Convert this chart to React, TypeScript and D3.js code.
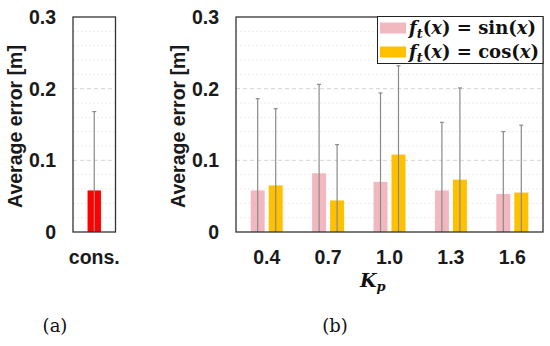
import { useEffect, useRef } from 'react';
import * as d3 from 'd3';

// panel (a): constant gain
const consLabels = ['cons.'];
const consMeans = [0.058];
const consErrTop = [0.168];

// panel (b): varying Kp
const kpLabels = ['0.4', '0.7', '1.0', '1.3', '1.6'];
const sinMeans = [0.058, 0.082, 0.07, 0.058, 0.053];
const sinErrTop = [0.186, 0.206, 0.194, 0.153, 0.14];
const cosMeans = [0.065, 0.044, 0.108, 0.073, 0.055];
const cosErrTop = [0.172, 0.122, 0.232, 0.201, 0.149];

const yTicks = [0, 0.1, 0.2, 0.3];

const W = 550;
const H = 346;

export default function App() {
  const svgRef = useRef<SVGSVGElement>(null);

  useEffect(() => {
    if (!svgRef.current) return;
    const svg = d3.select(svgRef.current);
    svg.selectAll('*').remove();

    const top = 17;
    const bottom = 232;
    const y = d3.scaleLinear().domain([0, 0.3]).range([bottom, top]);
    const minorTicks = d3.range(0.02, 0.3, 0.02).filter((v) => Math.abs(v * 10 - Math.round(v * 10)) > 1e-6);

    const axisFont = 'Liberation Sans, Arial, sans-serif';
    const fs = 19.5;

    // draws grid, y labels and title for a panel
    const drawFrame = (left: number, right: number, titleX: number) => {
      const g = svg.append('g');
      g.selectAll('.minor')
        .data(minorTicks)
        .enter()
        .append('line')
        .attr('x1', left)
        .attr('x2', right)
        .attr('y1', (d) => y(d))
        .attr('y2', (d) => y(d))
        .attr('stroke', '#ececec')
        .attr('stroke-width', 1)
        .attr('stroke-dasharray', '2,2');
      g.selectAll('.major')
        .data([0.1, 0.2])
        .enter()
        .append('line')
        .attr('x1', left)
        .attr('x2', right)
        .attr('y1', (d) => y(d))
        .attr('y2', (d) => y(d))
        .attr('stroke', '#d4d4d4')
        .attr('stroke-width', 1)
        .attr('stroke-dasharray', '4,3');
      g.selectAll('.ylab')
        .data(yTicks)
        .enter()
        .append('text')
        .attr('x', left - 17)
        .attr('y', (d) => y(d))
        .attr('dy', '0.36em')
        .attr('text-anchor', 'end')
        .attr('font-family', axisFont)
        .attr('font-weight', 'bold')
        .attr('font-size', fs)
        .attr('fill', '#1a1a1a')
        .text((d) => (d === 0 ? '0' : d3.format('.1f')(d)));
      g.append('text')
        .attr('transform', `translate(${titleX},${(top + bottom) / 2 + 2}) rotate(-90)`)
        .attr('text-anchor', 'middle')
        .attr('dy', '0.36em')
        .attr('font-family', axisFont)
        .attr('font-weight', 'bold')
        .attr('font-size', fs)
        .attr('fill', '#1a1a1a')
        .text('Average error [m]');
      return g;
    };

    const drawBox = (left: number, right: number) => {
      svg
        .append('rect')
        .attr('x', left)
        .attr('y', top)
        .attr('width', right - left)
        .attr('height', bottom - top)
        .attr('fill', 'none')
        .attr('stroke', '#333')
        .attr('stroke-width', 1.3);
    };

    const drawErr = (cx: number, v: number) => {
      svg
        .append('line')
        .attr('x1', cx)
        .attr('x2', cx)
        .attr('y1', y(0))
        .attr('y2', y(v))
        .attr('stroke', '#8a8a8a')
        .attr('stroke-width', 1.2);
      svg
        .append('line')
        .attr('x1', cx - 2)
        .attr('x2', cx + 2)
        .attr('y1', y(v))
        .attr('y2', y(v))
        .attr('stroke', '#8a8a8a')
        .attr('stroke-width', 1.2);
    };

    // ---------- panel (a)
    const aLeft = 73;
    const aRight = 115.5;
    drawFrame(aLeft, aRight, 15);
    const xa = d3.scaleBand().domain(consLabels).range([aLeft, aRight]);
    consLabels.forEach((c, i) => {
      const cx = (xa(c) as number) + xa.bandwidth() / 2;
      svg
        .append('rect')
        .attr('x', cx - 6.7)
        .attr('y', y(consMeans[i]))
        .attr('width', 13.4)
        .attr('height', y(0) - y(consMeans[i]))
        .attr('fill', '#ff0000');
      drawErr(cx, consErrTop[i]);
      svg
        .append('text')
        .attr('x', cx)
        .attr('y', 257)
        .attr('dy', '0.36em')
        .attr('text-anchor', 'middle')
        .attr('font-family', axisFont)
        .attr('font-weight', 'bold')
        .attr('font-size', fs)
        .attr('fill', '#1a1a1a')
        .text(c);
    });
    drawBox(aLeft, aRight);

    // ---------- panel (b)
    const bLeft = 236;
    const bRight = 543;
    drawFrame(bLeft, bRight, 178);
    const xb = d3.scaleBand().domain(kpLabels).range([bLeft, bRight]);
    const barW = 14;
    kpLabels.forEach((k, i) => {
      const cx = (xb(k) as number) + xb.bandwidth() / 2;
      const series = [
        { m: sinMeans[i], e: sinErrTop[i], c: '#f2b8c0', off: -9 },
        { m: cosMeans[i], e: cosErrTop[i], c: '#ffc000', off: 9 },
      ];
      series.forEach((s) => {
        svg
          .append('rect')
          .attr('x', cx + s.off - barW / 2)
          .attr('y', y(s.m))
          .attr('width', barW)
          .attr('height', y(0) - y(s.m))
          .attr('fill', s.c);
      });
      series.forEach((s) => drawErr(cx + s.off, s.e));
      svg
        .append('text')
        .attr('x', cx)
        .attr('y', 257)
        .attr('dy', '0.36em')
        .attr('text-anchor', 'middle')
        .attr('font-family', axisFont)
        .attr('font-weight', 'bold')
        .attr('font-size', fs)
        .attr('fill', '#1a1a1a')
        .text(k);
    });
    drawBox(bLeft, bRight);

    // legend
    const lg = svg.append('g');
    lg.append('rect')
      .attr('x', 377.5)
      .attr('y', 16.5)
      .attr('width', bRight - 377.5)
      .attr('height', 47)
      .attr('fill', 'white')
      .attr('stroke', '#222')
      .attr('stroke-width', 1);
    const legendItems = [
      { fn: 'sin', c: '#f2b8c0' },
      { fn: 'cos', c: '#ffc000' },
    ];
    legendItems.forEach((it, i) => {
      const yy = 28 + i * 24;
      lg.append('rect')
        .attr('x', 380)
        .attr('y', yy - 5.5)
        .attr('width', 26)
        .attr('height', 11)
        .attr('fill', it.c);
      const t = lg
        .append('text')
        .attr('x', 409)
        .attr('y', yy + 6)
        .attr('font-family', 'DejaVu Serif, serif')
        .attr('font-weight', 'bold')
        .attr('font-size', 18)
        .attr('fill', '#111');
      t.append('tspan').attr('font-style', 'italic').text('f');
      t.append('tspan').attr('font-style', 'italic').attr('font-size', 13).attr('dy', 4).text('t');
      t.append('tspan').attr('dy', -4).text('(');
      t.append('tspan').attr('font-style', 'italic').text('x');
      t.append('tspan').text(') = ' + it.fn + '(');
      t.append('tspan').attr('font-style', 'italic').text('x');
      t.append('tspan').text(')');
    });

    // K_p label
    const kp = svg
      .append('text')
      .attr('x', 360)
      .attr('y', 287)
      .attr('font-family', 'DejaVu Serif, serif')
      .attr('font-weight', 'bold')
      .attr('font-style', 'italic')
      .attr('font-size', 19)
      .attr('fill', '#111');
    kp.append('tspan').text('K');
    kp.append('tspan').attr('font-size', 13).attr('dy', 4).text('p');

    // panel captions
    [
      { t: '(a)', x: 55 },
      { t: '(b)', x: 335 },
    ].forEach((c) => {
      svg
        .append('text')
        .attr('x', c.x)
        .attr('y', 332)
        .attr('text-anchor', 'middle')
        .attr('font-family', 'DejaVu Serif, serif')
        .attr('font-size', 18)
        .attr('fill', '#111')
        .text(c.t);
    });
  }, []);

  return (
    <div style={{ position: 'absolute', left: 0, top: 0, width: W, height: H, background: 'white' }}>
      <svg ref={svgRef} width={W} height={H} viewBox={`0 0 ${W} ${H}`} style={{ display: 'block' }} />
    </div>
  );
}
